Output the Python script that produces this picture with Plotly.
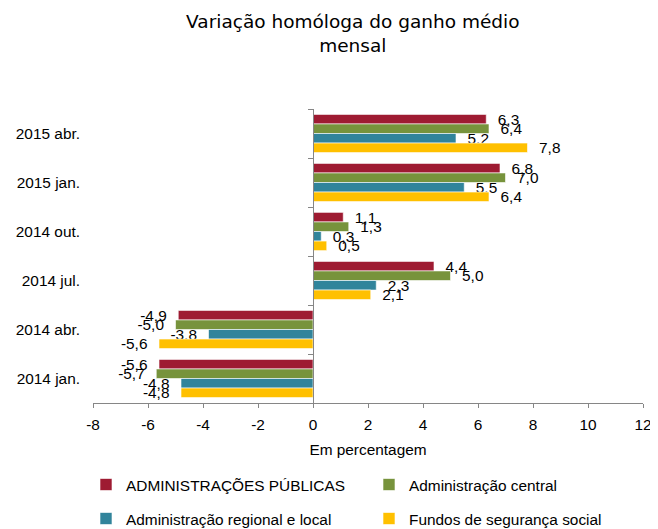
import plotly.graph_objects as go

categories = ["2015 abr.", "2015 jan.", "2014 out.", "2014 jul.", "2014 abr.", "2014 jan."]
adm_publicas = [6.3, 6.8, 1.1, 4.4, -4.9, -5.6]
adm_central = [6.4, 7.0, 1.3, 5.0, -5.0, -5.7]
adm_regional = [5.2, 5.5, 0.3, 2.3, -3.8, -4.8]
fundos_ss = [7.8, 6.4, 0.5, 2.1, -5.6, -4.8]
series_names = ["ADMINISTRAÇÕES PÚBLICAS", "Administração central",
                "Administração regional e local", "Fundos de segurança social"]
series_values = [adm_publicas, adm_central, adm_regional, fundos_ss]
colors = ["#9E1B32", "#77933C", "#31849B", "#FFC000"]
legend_ids = ["legend", "legend2", "legend3", "legend4"]
x_ticks = [-8, -6, -4, -2, 0, 2, 4, 6, 8, 10, 12]
x_ticktext = [str(t) for t in x_ticks]

FONT = "Liberation Sans, Arial, sans-serif"
FS = 15.4
NB = "\u00a0\u00a0"

# the page body adds an 8px margin, so the figure is 8px smaller than the window
W, H = 650, 521


def label(v):
    s = f"{v:.1f}".replace(".", ",")
    return NB + s if v >= 0 else s + NB


fig = go.Figure()
for name, vals, col, lg in zip(series_names, series_values, colors, legend_ids):
    fig.add_trace(go.Bar(
        y=categories, x=vals, orientation="h", name=name,
        marker=dict(color=col, line=dict(color="white", width=0.6)),
        text=[label(v) for v in vals], texttemplate="%{text}",
        textposition="outside", constraintext="none",
        cliponaxis=False, textfont=dict(family=FONT, size=FS, color="#000"),
        legend=lg,
    ))

# invisible helper trace for the vertical axis line at zero
fig.add_trace(go.Scatter(x=[0], y=[0], yaxis="y2", mode="markers",
                         marker=dict(opacity=0), showlegend=False, hoverinfo="skip"))

legend_pos = {  # (left px, row centre px) in figure coordinates
    "legend": (78, 477), "legend2": (361, 477),
    "legend3": (78, 511), "legend4": (361, 511),
}
legend_layout = {}
for lid, (lx, ly) in legend_pos.items():
    legend_layout[lid] = dict(
        orientation="h", xref="container", yref="container",
        x=lx / W, xanchor="left", y=1 - ly / H, yanchor="middle",
        bgcolor="rgba(0,0,0,0)", font=dict(family=FONT, size=FS, color="#000"))

fig.update_layout(
    width=W, height=H,
    margin=dict(l=85, r=15, t=101, b=126, autoexpand=False),
    paper_bgcolor="white", plot_bgcolor="white",
    barmode="group", bargap=0.22, bargroupgap=0,
    font=dict(family=FONT, size=FS, color="#000"),
    title=dict(text="Variação homóloga do ganho médio<br>mensal",
               font=dict(family="DejaVu Sans, sans-serif", size=18.5, color="#000"),
               x=0.5305, xanchor="center", xref="container",
               y=1 - 20 / H, yanchor="top", yref="container"),
    xaxis=dict(range=[-8, 12], tickvals=x_ticks, ticktext=x_ticktext,
               ticks="outside", ticklen=4, ticklabelstandoff=4, automargin=False,
               tickcolor="#868686", showline=True, linecolor="#868686", linewidth=1,
               showgrid=False, zeroline=False,
               tickfont=dict(family=FONT, size=FS, color="#000"),
               title=dict(text="Em percentagem", standoff=11,
                          font=dict(family=FONT, size=FS, color="#000"))),
    yaxis=dict(type="category", categoryorder="array", categoryarray=categories,
               range=[5.5, -0.5], showline=False, showgrid=False, zeroline=False,
               ticks="", ticklabelstandoff=12, automargin=False,
               tickfont=dict(family=FONT, size=FS, color="#000")),
    yaxis2=dict(overlaying="y", anchor="free", position=0.4, side="left",
                range=[5.5, -0.5], tickvals=[-0.5, 0.5, 1.5, 2.5, 3.5, 4.5, 5.5],
                ticks="outside", ticklen=5, tickcolor="#868686", automargin=False,
                showline=True, linecolor="#868686", linewidth=1,
                showticklabels=False, showgrid=False, zeroline=False),
    **legend_layout,
)

fig.write_html("out.html")
